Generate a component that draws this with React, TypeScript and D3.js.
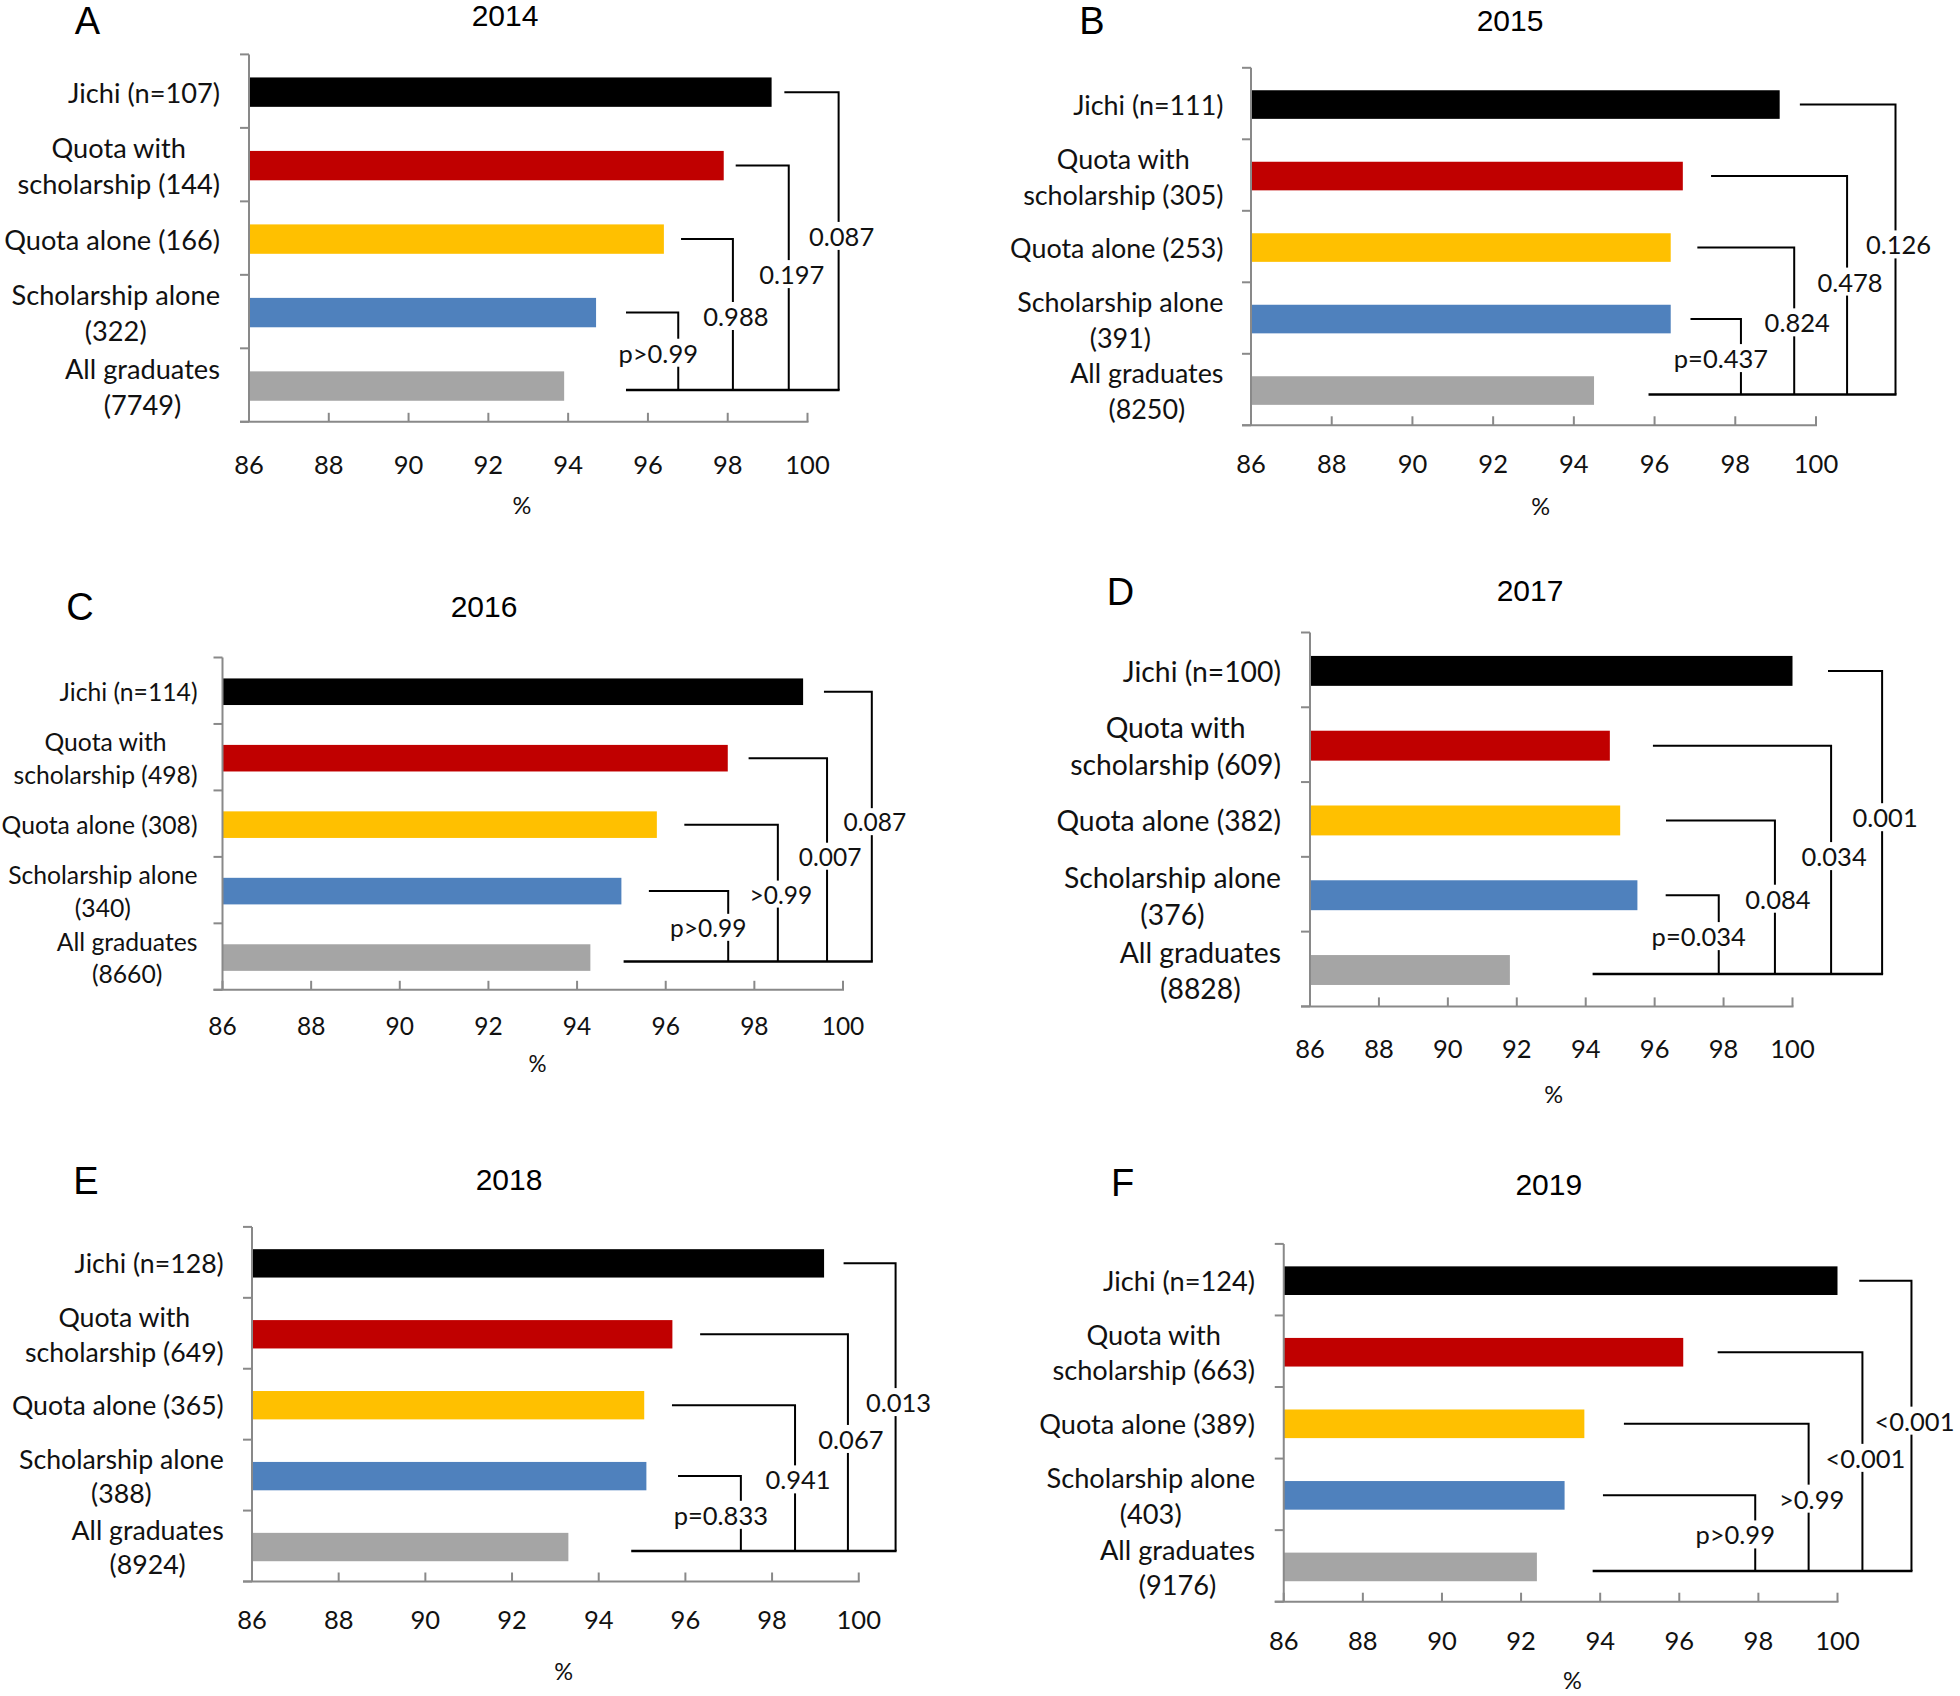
import React, { useEffect, useRef } from "react";
import * as d3 from "d3";

// ---------- data ----------
const panelLetters = ["A", "B", "C", "D", "E", "F"];
const years = ["2014", "2015", "2016", "2017", "2018", "2019"];
const groupColors = ["#000000", "#C00000", "#FFC000", "#4F81BD", "#A5A5A5"];
const xTicks = [86, 88, 90, 92, 94, 96, 98, 100];

const n2014 = [107, 144, 166, 322, 7749];
const n2015 = [111, 305, 253, 391, 8250];
const n2016 = [114, 498, 308, 340, 8660];
const n2017 = [100, 609, 382, 376, 8828];
const n2018 = [128, 649, 365, 388, 8924];
const n2019 = [124, 663, 389, 403, 9176];

const pct2014 = [99.1, 97.9, 96.4, 94.7, 93.9];
const pct2015 = [99.1, 96.7, 96.4, 96.4, 94.5];
const pct2016 = [99.1, 97.4, 95.8, 95.0, 94.3];
const pct2017 = [100.0, 94.7, 95.0, 95.5, 91.8];
const pct2018 = [99.2, 95.7, 95.05, 95.1, 93.3];
const pct2019 = [100.0, 96.1, 93.6, 93.1, 92.4];

// p-values of each group vs All graduates
const p2014 = ["0.087", "0.197", "0.988", "p>0.99"];
const p2015 = ["0.126", "0.478", "0.824", "p=0.437"];
const p2016 = ["0.087", "0.007", ">0.99", "p>0.99"];
const p2017 = ["0.001", "0.034", "0.084", "p=0.034"];
const p2018 = ["0.013", "0.067", "0.941", "p=0.833"];
const p2019 = ["<0.001", "<0.001", ">0.99", "p>0.99"];

// bracket geometry in % units (start of arm, x of the drop, start of base line)
const arm2014 = [99.42, 98.2, 96.83, 95.45];
const drop2014 = [100.78, 99.53, 98.13, 96.76];
const arm2015 = [99.6, 97.4, 97.06, 96.89];
const drop2015 = [101.97, 100.77, 99.46, 98.14];
const arm2016 = [99.57, 97.87, 96.42, 95.62];
const drop2016 = [100.65, 99.64, 98.53, 97.41];
const arm2017 = [101.03, 95.95, 96.33, 96.32];
const drop2017 = [102.6, 101.12, 99.49, 97.86];
const arm2018 = [99.65, 96.34, 95.69, 95.83];
const drop2018 = [100.85, 99.75, 98.53, 97.28];
const arm2019 = [100.55, 96.97, 94.6, 94.07];
const drop2019 = [101.87, 100.63, 99.27, 97.92];
const baseStart = [95.45, 95.85, 95.05, 94.2, 94.75, 93.81];
// vertical position of the p-value label, in band units from the top
const pLabelBand = [2.47, 2.99, 3.56, 4.06];

const sampleSizes = [n2014, n2015, n2016, n2017, n2018, n2019];
const percents = [pct2014, pct2015, pct2016, pct2017, pct2018, pct2019];
const pValues = [p2014, p2015, p2016, p2017, p2018, p2019];
const arms = [arm2014, arm2015, arm2016, arm2017, arm2018, arm2019];
const drops = [drop2014, drop2015, drop2016, drop2017, drop2018, drop2019];

function groupLabels(n: number[]): string[][] {
  return [
    [`Jichi (n=${n[0]})`],
    ["Quota with", `scholarship (${n[1]})`],
    [`Quota alone (${n[2]})`],
    ["Scholarship alone", `(${n[3]})`],
    ["All graduates", `(${n[4]})`],
  ];
}

// ---------- layout ----------
const layouts = [
  { x0: 249, x1: 807.5, yTop: 54.4, yBot: 421.8, labelRight: 220, title: [505, 15.5], letter: [87.5, 20.7], tickY: 464, pctX: 522, pctY: 505, fs: 27.2, lh: 36, tfs: 25.5 },
  { x0: 1251, x1: 1816, yTop: 67.8, yBot: 425.3, labelRight: 1223.5, title: [1510, 20], letter: [1092, 21], tickY: 463, pctX: 1540.6, pctY: 506, fs: 26.9, lh: 36, tfs: 25.5 },
  { x0: 222.5, x1: 843, yTop: 657.5, yBot: 989.8, labelRight: 197.5, title: [484, 606.5], letter: [80, 606.5], tickY: 1025, pctX: 537.5, pctY: 1063.4, fs: 24.7, lh: 32.7, tfs: 24.5 },
  { x0: 1310, x1: 1792.5, yTop: 632.5, yBot: 1006.4, labelRight: 1281, title: [1530, 590.4], letter: [1120.6, 592], tickY: 1047.5, pctX: 1553.75, pctY: 1094, fs: 28.3, lh: 36.8, tfs: 25.5 },
  { x0: 252, x1: 858.75, yTop: 1226.9, yBot: 1581.5, labelRight: 223.75, title: [509, 1179], letter: [86, 1180.8], tickY: 1619.4, pctX: 563.75, pctY: 1670.9, fs: 26.7, lh: 34.7, tfs: 25.5 },
  { x0: 1283.75, x1: 1837.5, yTop: 1243.9, yBot: 1601.7, labelRight: 1255, title: [1548.75, 1184.3], letter: [1122.5, 1182.5], tickY: 1640, pctX: 1572.5, pctY: 1680, fs: 27.2, lh: 35.5, tfs: 25.5 },
];

const FONT = "Lato, 'Liberation Sans', Arial, sans-serif";
const TITLE_FONT = "'Liberation Sans', Arial, sans-serif";
const AXIS_COLOR = "#898989";

export default function App() {
  const ref = useRef<SVGSVGElement | null>(null);

  useEffect(() => {
    const svg = d3.select(ref.current);
    svg.selectAll("*").remove();

    layouts.forEach((L, pi) => {
      const g = svg.append("g");
      const vals = percents[pi];
      const x = d3.scaleLinear().domain([86, 100]).range([L.x0, L.x1]);
      const idx = d3.range(vals.length).map(String);
      const y = d3.scaleBand<string>().domain(idx).range([L.yTop, L.yBot]).paddingInner(0.6).paddingOuter(0.3);
      const band = (L.yBot - L.yTop) / vals.length;
      const cy = (i: number) => (y(String(i)) as number) + y.bandwidth() / 2 + 1;

      // title and panel letter
      g.append("text").attr("x", L.title[0]).attr("y", L.title[1]).attr("text-anchor", "middle")
        .attr("dominant-baseline", "central").attr("font-family", TITLE_FONT).attr("font-size", 30)
        .text(years[pi]);
      g.append("text").attr("x", L.letter[0]).attr("y", L.letter[1]).attr("text-anchor", "middle")
        .attr("dominant-baseline", "central").attr("font-family", TITLE_FONT).attr("font-size", 38)
        .text(panelLetters[pi]);

      // bars
      g.selectAll("rect.bar").data(vals).enter().append("rect")
        .attr("x", x(86)).attr("y", (_d, i) => (y(String(i)) as number) + 1)
        .attr("width", (d) => x(d) - x(86)).attr("height", y.bandwidth())
        .attr("fill", (_d, i) => groupColors[i]);

      // y axis
      g.append("line").attr("x1", L.x0).attr("x2", L.x0).attr("y1", L.yTop).attr("y2", L.yBot)
        .attr("stroke", AXIS_COLOR).attr("stroke-width", 2);
      d3.range(vals.length + 1).forEach((k) => {
        const yy = L.yTop + k * band;
        g.append("line").attr("x1", L.x0 - 9).attr("x2", L.x0).attr("y1", yy).attr("y2", yy)
          .attr("stroke", AXIS_COLOR).attr("stroke-width", 2);
      });
      // x axis
      g.append("line").attr("x1", L.x0 - 9).attr("x2", L.x1 + 1).attr("y1", L.yBot).attr("y2", L.yBot)
        .attr("stroke", AXIS_COLOR).attr("stroke-width", 2);
      xTicks.forEach((t) => {
        g.append("line").attr("x1", x(t)).attr("x2", x(t)).attr("y1", L.yBot - 9).attr("y2", L.yBot)
          .attr("stroke", AXIS_COLOR).attr("stroke-width", 2);
        g.append("text").attr("x", x(t)).attr("y", L.tickY).attr("text-anchor", "middle")
          .attr("dominant-baseline", "central").attr("font-family", FONT).attr("font-size", L.tfs)
          .attr("fill", "#111").text(String(t));
      });
      g.append("text").attr("x", L.pctX).attr("y", L.pctY).attr("text-anchor", "middle")
        .attr("dominant-baseline", "central").attr("font-family", FONT).attr("font-size", L.tfs - 2)
        .attr("fill", "#111").text("%");

      // category labels
      const labels = groupLabels(sampleSizes[pi]);
      labels.forEach((lines, i) => {
        const c = cy(i);
        const nodes = lines.map((ln, k) =>
          g.append("text").attr("x", L.labelRight)
            .attr("y", c + (k - (lines.length - 1) / 2) * L.lh)
            .attr("text-anchor", "middle").attr("dominant-baseline", "central")
            .attr("font-family", FONT).attr("font-size", L.fs).attr("fill", "#111")
            .text(ln)
        );
        const widths = nodes.map((nd) => (nd.node() as SVGTextElement).getComputedTextLength());
        const mw = Math.max(...widths);
        nodes.forEach((nd) => nd.attr("x", L.labelRight - mw / 2));
      });

      // brackets
      const baseY = cy(4) + 4;
      const arm = arms[pi];
      const drop = drops[pi];
      const lineG = g.append("g");
      const labG = g.append("g");
      arm.forEach((a, i) => {
        const yy = cy(i);
        lineG.append("path")
          .attr("d", `M${x(a)},${yy}H${x(drop[i])}V${baseY}`)
          .attr("fill", "none").attr("stroke", "#000").attr("stroke-width", 2);
        const lx = i === 3 ? x(drop[i]) - 20 : x(drop[i]) + 3;
        const ly = L.yTop + pLabelBand[i] * band;
        const t = labG.append("text").attr("x", lx).attr("y", ly).attr("text-anchor", "middle")
          .attr("dominant-baseline", "central").attr("font-family", FONT).attr("font-size", L.tfs)
          .attr("fill", "#111").text(pValues[pi][i]);
        const bb = (t.node() as SVGTextElement).getBBox();
        labG.insert("rect", () => t.node() as any)
          .attr("x", bb.x - 1).attr("y", bb.y + 1).attr("width", bb.width + 2).attr("height", bb.height - 2)
          .attr("fill", "#fff");
      });
      lineG.append("line").attr("x1", x(baseStart[pi])).attr("x2", x(drop[0]) + 1)
        .attr("y1", baseY).attr("y2", baseY).attr("stroke", "#000").attr("stroke-width", 2.5);
    });
  }, []);

  return (
    <svg
      ref={ref}
      width={1960}
      height={1696}
      style={{ position: "absolute", left: 0, top: 0, background: "#fff" }}
    />
  );
}
